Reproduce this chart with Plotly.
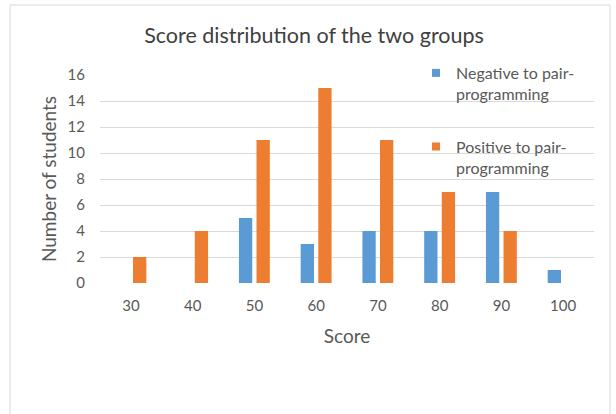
import plotly.graph_objects as go

# Score bands and the number of students in each group per band
scores = ["30", "40", "50", "60", "70", "80", "90", "100"]
negative_counts = [0, 0, 5, 3, 4, 4, 7, 1]
positive_counts = [2, 4, 11, 15, 11, 7, 4, 0]

series_names = ["Negative to pair-<br>programming", "Positive to pair-<br>programming"]
series_colors = ["#5B9BD5", "#ED7D31"]

y_ticks = [0, 2, 4, 6, 8, 10, 12, 14, 16]

W, H = 616, 414
ML, MR, MT, MB = 100, 22, 75, 131
text_color = "#595959"
font_family = "Lato, 'Open Sans', sans-serif"

fig = go.Figure()

for name, color, counts, grp in zip(series_names, series_colors,
                                    [negative_counts, positive_counts], ["neg", "pos"]):
    fig.add_trace(go.Bar(
        x=scores, y=counts, name=name, marker_color=color,
        marker_line_width=0, showlegend=False, legendgroup=grp,
        hoverinfo="x+y",
    ))
    # small square legend swatch
    fig.add_trace(go.Scatter(
        x=[None], y=[None], mode="markers", name=name, legendgroup=grp,
        marker=dict(symbol="square", size=8, color=color),
    ))

pw = W - ML - MR
ph = H - MT - MB

# light chart-area border
fig.add_shape(
    type="rect", xref="paper", yref="paper",
    x0=(10 - ML) / pw, x1=(610 - ML) / pw,
    y0=(H - 420 - MB) / ph, y1=(H - 5 - MB) / ph,
    line=dict(color="#D9D9D9", width=1), layer="below",
)

fig.update_layout(
    width=W, height=H,
    margin=dict(l=ML, r=MR, t=MT, b=MB),
    paper_bgcolor="white", plot_bgcolor="white",
    font=dict(family=font_family, color=text_color, size=15),
    title=dict(
        text="Score distribution of the two groups",
        x=(314) / W, xanchor="center", y=1 - 35 / H, yanchor="middle",
        font=dict(size=21.5, color="#404040", family=font_family),
    ),
    barmode="group", bargap=0.43, bargroupgap=0.244,
    legend=dict(
        x=(416 - ML) / pw, xanchor="left", y=1 + (MT - 56) / ph, yanchor="top",
        bgcolor="rgba(0,0,0,0)", font=dict(size=16, color=text_color),
        tracegroupgap=29, itemwidth=30, valign="top",
    ),
    showlegend=True,
)

fig.update_xaxes(
    type="category", categoryorder="array", categoryarray=scores,
    showgrid=False, showline=False, zeroline=False, ticks="",
    tickfont=dict(size=15, color=text_color), ticklabelstandoff=12,
    title=dict(text="Score", font=dict(size=19, color=text_color), standoff=16),
)

fig.update_yaxes(
    range=[0, 16], tickvals=y_ticks, showgrid=True, gridcolor="#D9D9D9",
    gridwidth=1, zeroline=False, showline=False, ticks="",
    tickfont=dict(size=15, color=text_color), ticklabelstandoff=14,
    title=dict(text="Number of students", font=dict(size=19, color=text_color), standoff=5),
)

fig.write_html("out.html")
